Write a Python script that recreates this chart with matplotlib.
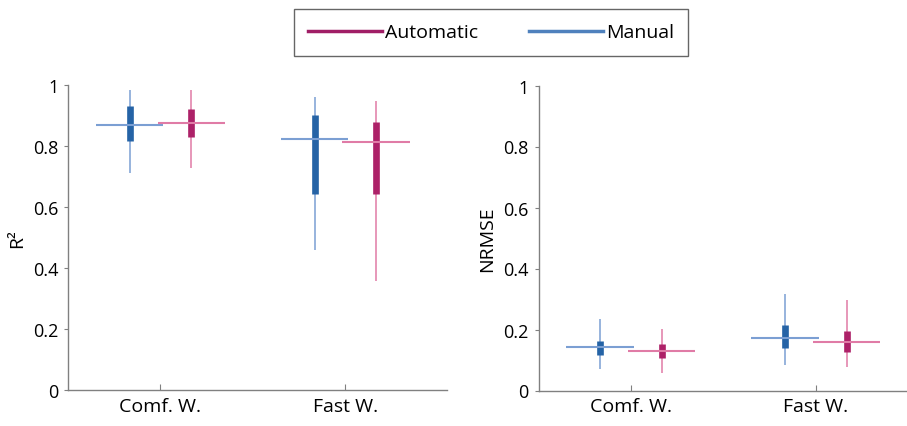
import matplotlib.pyplot as plt
from matplotlib.lines import Line2D

plt.rcParams['font.family'] = ['Open Sans', 'DejaVu Sans']

groups = ['Comf. W.', 'Fast W.']

# R2 : whisker low, box low, median, box high, whisker high
r2_manual_lo = [0.710, 0.460]
r2_manual_q1 = [0.815, 0.644]
r2_manual_med = [0.870, 0.822]
r2_manual_q3 = [0.932, 0.903]
r2_manual_hi = [0.985, 0.961]

r2_auto_lo = [0.729, 0.356]
r2_auto_q1 = [0.830, 0.643]
r2_auto_med = [0.875, 0.814]
r2_auto_q3 = [0.921, 0.878]
r2_auto_hi = [0.983, 0.948]

# NRMSE
nr_manual_lo = [0.069, 0.082]
nr_manual_q1 = [0.115, 0.139]
nr_manual_med = [0.142, 0.172]
nr_manual_q3 = [0.163, 0.214]
nr_manual_hi = [0.233, 0.317]

nr_auto_lo = [0.058, 0.076]
nr_auto_q1 = [0.106, 0.126]
nr_auto_med = [0.130, 0.160]
nr_auto_q3 = [0.154, 0.196]
nr_auto_hi = [0.201, 0.296]

man_dark, man_light = '#2563a6', '#7b9fd3'
aut_dark, aut_light = '#ad2168', '#e07ba6'
spine_col = '#808080'


def draw(ax, pos, lo, q1, med, q3, hi, dark, light):
    ax.vlines(pos, lo, hi, color=light, lw=1.1)
    ax.vlines(pos, q1, q3, color=dark, lw=4.8)
    ax.hlines(med, [p - 0.182 for p in pos], [p + 0.182 for p in pos], color=light, lw=1.5)


fig = plt.figure(figsize=(9.07, 4.27), dpi=100)
ax1 = fig.add_axes([68 / 907, 1 - 391 / 427, 379 / 907, 305 / 427])
ax2 = fig.add_axes([538.5 / 907, 1 - 391.5 / 427, 379 / 907, 305 / 427])

x = [1, 2]
off = 1 / 6
draw(ax1, [v - off for v in x], r2_manual_lo, r2_manual_q1, r2_manual_med, r2_manual_q3, r2_manual_hi, man_dark, man_light)
draw(ax1, [v + off for v in x], r2_auto_lo, r2_auto_q1, r2_auto_med, r2_auto_q3, r2_auto_hi, aut_dark, aut_light)
draw(ax2, [v - off for v in x], nr_manual_lo, nr_manual_q1, nr_manual_med, nr_manual_q3, nr_manual_hi, man_dark, man_light)
draw(ax2, [v + off for v in x], nr_auto_lo, nr_auto_q1, nr_auto_med, nr_auto_q3, nr_auto_hi, aut_dark, aut_light)

for ax, lab in [(ax1, 'R²'), (ax2, 'NRMSE')]:
    ax.set_xlim(0.5, 2.55)
    ax.set_ylim(0, 1)
    ax.set_xticks(x)
    ax.set_xticklabels(groups)
    ax.set_yticks([0, 0.2, 0.4, 0.6, 0.8, 1])
    ax.set_yticklabels(['0', '0.2', '0.4', '0.6', '0.8', '1'])
    ax.set_ylabel(lab, fontsize=14, labelpad=5)
    ax.spines['top'].set_visible(False)
    ax.spines['right'].set_visible(False)
    for s in ['left', 'bottom']:
        ax.spines[s].set_color(spine_col)
        ax.spines[s].set_linewidth(1.0)
    ax.tick_params(axis='y', direction='out', length=3, color=spine_col, labelsize=13, pad=4)
    ax.tick_params(axis='x', direction='in', length=4, color=spine_col, labelsize=14, pad=5)

handles = [Line2D([], [], color='#a01e66', lw=2.5),
           Line2D([], [], color='#4f81bd', lw=2.5)]
leg = fig.legend(handles, ['Automatic', 'Manual'], loc='center',
                 bbox_to_anchor=(491 / 907, 1 - 33.5 / 427), ncol=2,
                 fontsize=14, frameon=True, fancybox=False,
                 handlelength=3.8, handletextpad=0.15, columnspacing=2.6,
                 borderpad=0.75, borderaxespad=0)
leg.get_frame().set_edgecolor('#404040')
leg.get_frame().set_linewidth(1.0)

fig.savefig('out.png', dpi=100)
